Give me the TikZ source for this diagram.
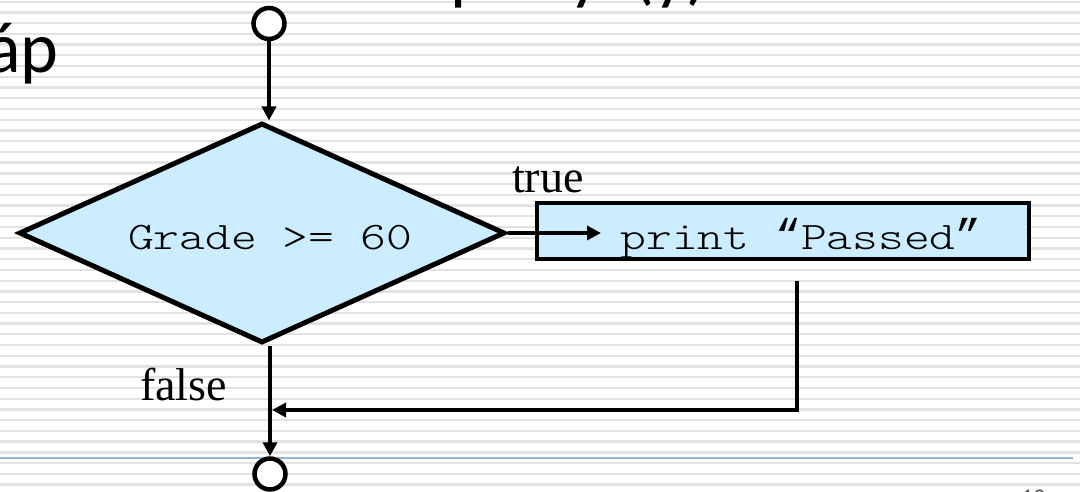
\documentclass[tikz,border=0pt]{standalone}
\usepackage{fontspec}
\setmainfont{Liberation Serif}
\newfontfamily\codefont[FakeStretch=1.26]{Latin Modern Mono Light}
\newfontfamily\quotefont{Liberation Mono}
\newfontfamily\titlefont{Carlito}
\usetikzlibrary{shapes.geometric,arrows.meta}
\definecolor{fillblue}{RGB}{204,236,255}
\definecolor{stripegray}{RGB}{226,226,226}
\definecolor{ruleblue}{RGB}{150,180,210}
\definecolor{pagegray}{RGB}{90,90,90}
\newcommand{\cq}[1]{{\quotefont\fontsize{43}{43}\selectfont #1}}
\tikzset{
  flow/.style={line width=4pt, -{Triangle[length=14pt,width=14pt]}},
  term/.style={circle, draw, line width=4.5pt, fill=white, minimum size=31pt, inner sep=0pt},
  decision/.style={diamond, draw, line width=5pt, fill=fillblue, minimum width=486pt, minimum height=220pt, inner sep=0pt},
  process/.style={rectangle, draw, line width=4.5pt, fill=fillblue, minimum width=492pt, minimum height=56pt, inner sep=0pt},
  code/.style={font=\codefont\fontsize{39}{39}\selectfont, inner sep=0pt},
  lbl/.style={font=\fontsize{46}{46}\selectfont, inner sep=0pt},
  titletext/.style={font=\titlefont\fontsize{72}{72}\selectfont, inner sep=0pt},
  stripe/.style={stripegray, line width=2.3pt},
}
\begin{document}
\begin{tikzpicture}[x=1pt,y=-1pt]
  \useasboundingbox (0,0) rectangle (1080,492);
  \fill[white] (0,0) rectangle (1080,492);
  \foreach \k in {0,...,45} {
    \pgfmathsetmacro{\yy}{1.7+10.73*\k}
    \draw[stripe] (0,\yy) -- (1080,\yy);
  }
  % slide decoration
  \draw[ruleblue, line width=2pt] (0,458) -- (1073,458);
  \node[titletext, anchor=base east] (title2) at (59,73) {áp};
  \node[titletext, anchor=base west] (t1) at (450,-3) {p};
  \node[titletext, anchor=base west] (t2) at (569,-3) {y};
  \node[titletext, anchor=base west] (t3) at (632,-3) {(y)};
  \node[anchor=north west, inner sep=0pt, font=\titlefont\fontsize{24}{24}\selectfont, text=pagegray] (pg) at (1021,489.5) {12};
  % flowchart
  \node[term] (c1) at (269,23.5) {};
  \node[decision] (d) at (262,233) {};
  \node[code, anchor=base] (gtext) at (270,250) {Grade >= 60};
  \node[process] (p) at (783,231) {};
  \node[code, anchor=base] (ptext) at (801,250) {print \cq{“}Passed\cq{”}};
  \node[term] (c2) at (270,474) {};
  \coordinate (tipT) at (601,233);
  \coordinate (startB) at (797,281);
  \coordinate (join) at (272,410);
  \node[lbl, anchor=base west] (ltrue) at (512,193) {true};
  \node[lbl, anchor=base west] (lfalse) at (140,400) {false};
  \draw[flow] (c1) -- (c1 |- d.north);
  \draw[flow] (d.east) -- (tipT);
  \draw[flow] (startB) |- (join);
  \draw[flow] (c2 |- d.south) -- (c2);
\end{tikzpicture}
\end{document}
